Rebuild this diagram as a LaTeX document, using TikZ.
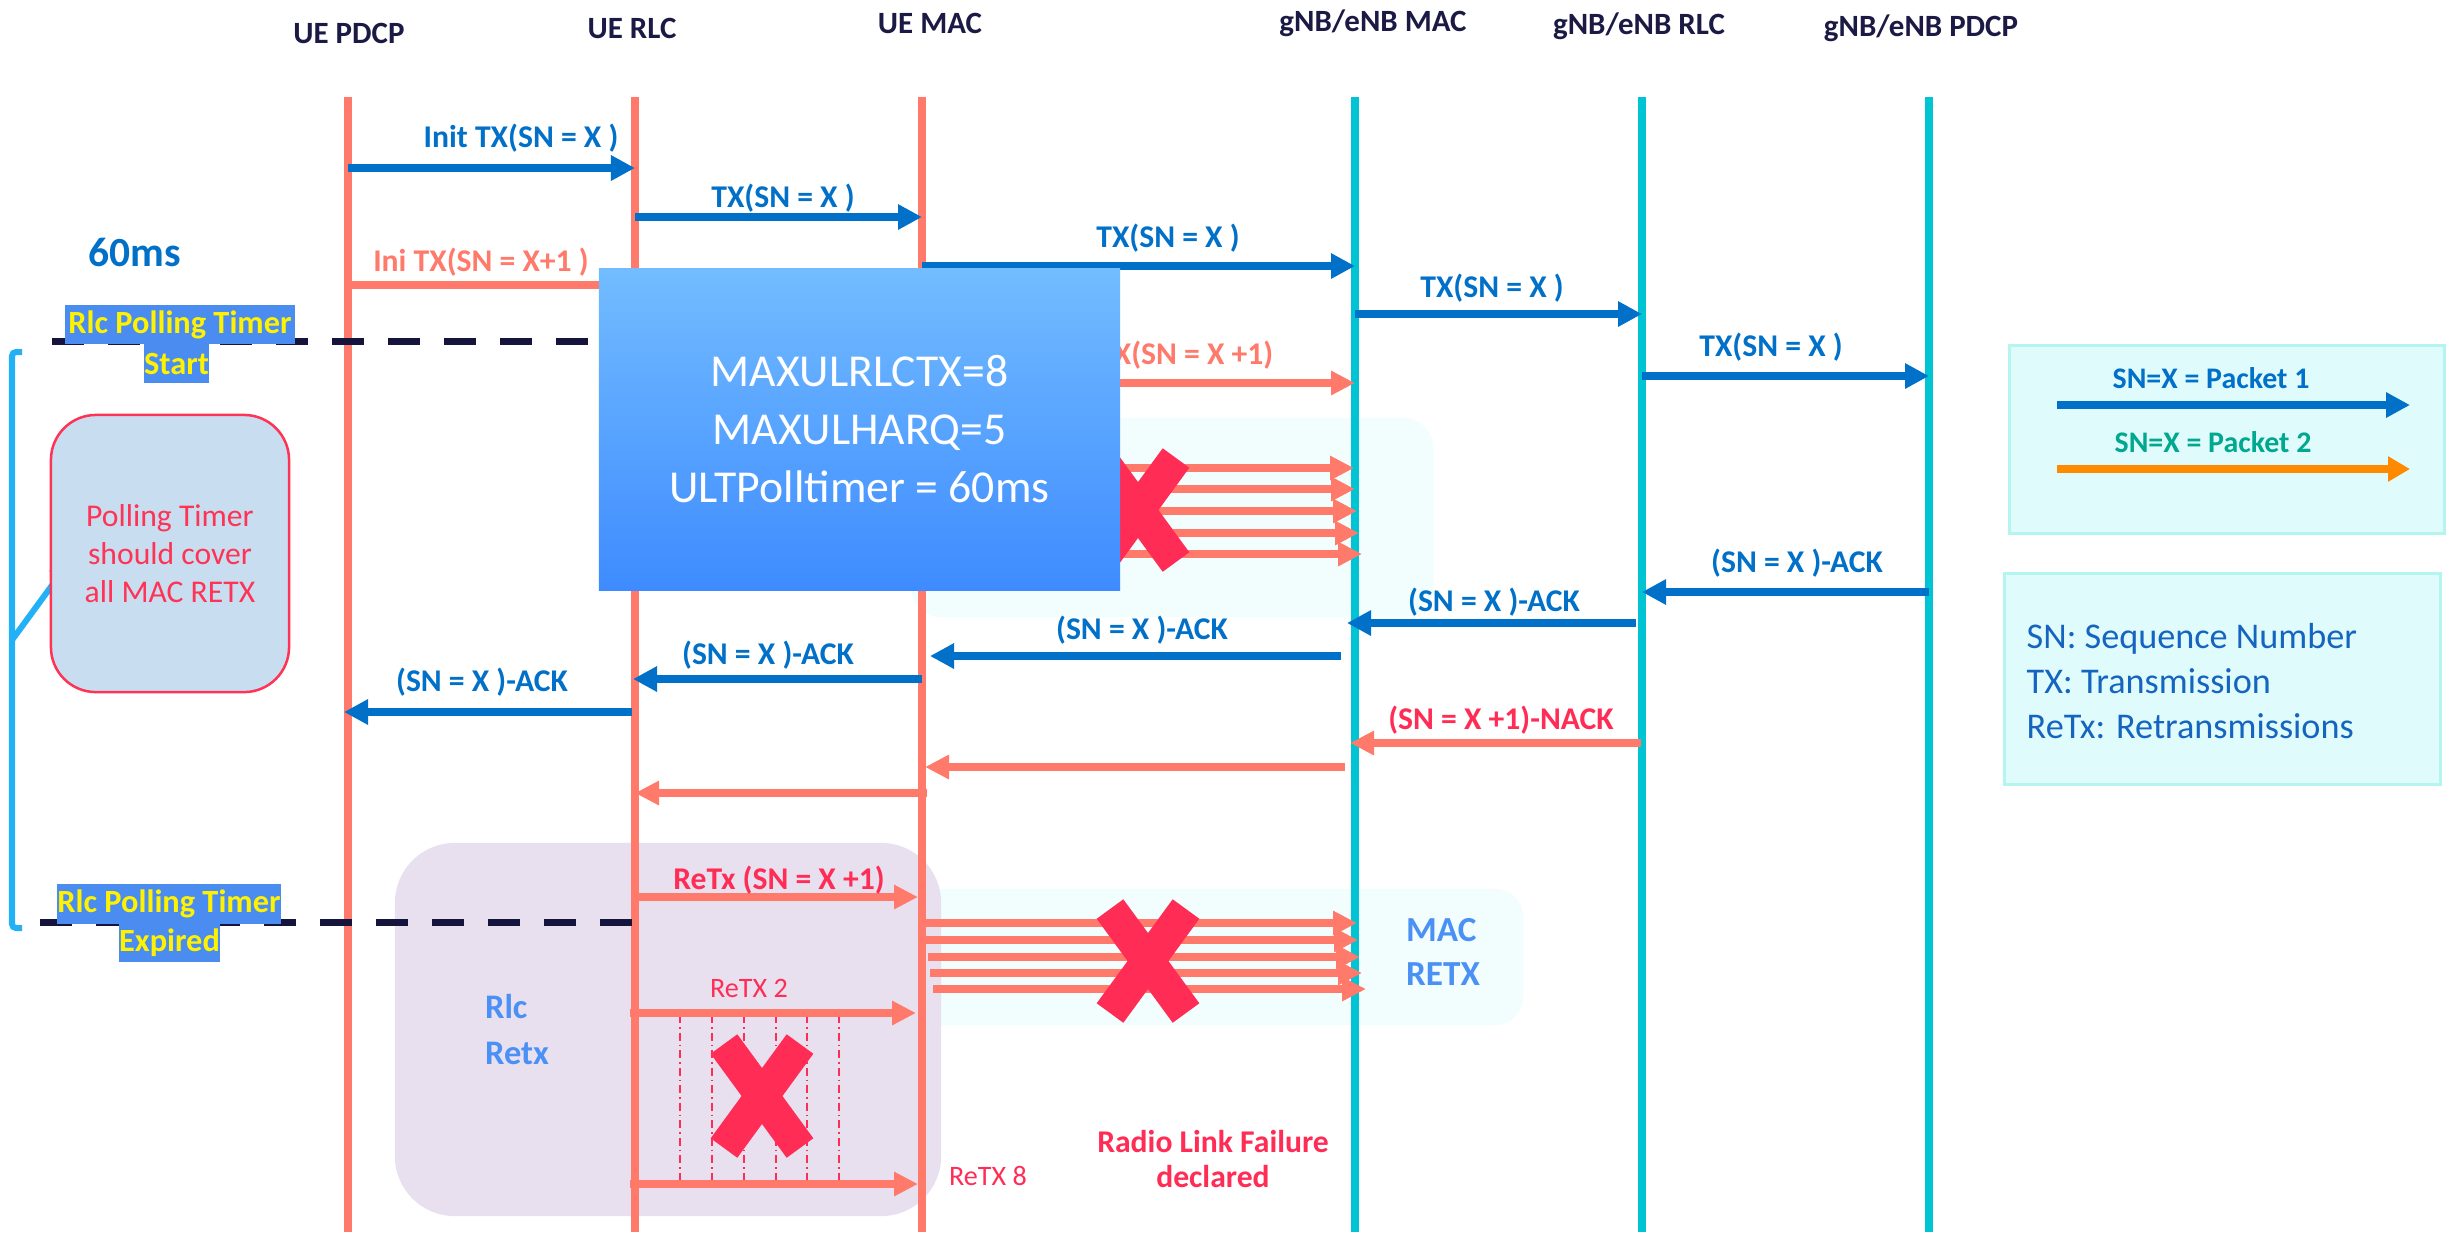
\documentclass[tikz,border=0pt]{standalone}
\usepackage{fontspec}
\setmainfont{Carlito}
\usetikzlibrary{arrows.meta}
\definecolor{arrblue}{HTML}{0070C8}
\definecolor{salmon}{HTML}{FF7A6A}
\definecolor{xred}{HTML}{FF2D55}
\definecolor{lifecyan}{HTML}{00C4D4}
\definecolor{navy}{HTML}{1B1A45}
\definecolor{hlblue}{HTML}{4A8CF0}
\definecolor{txtblue}{HTML}{4A90F5}
\definecolor{lav}{HTML}{E8E0EF}
\definecolor{palecyan}{HTML}{F2FDFD}
\definecolor{legfill}{HTML}{E0FBFB}
\definecolor{legline}{HTML}{B4F6EF}
\definecolor{legtext}{HTML}{1565C0}
\definecolor{teal}{HTML}{00A88F}
\definecolor{legorange}{HTML}{FF8A00}
\definecolor{pollfill}{HTML}{C8DEF0}
\definecolor{pollred}{HTML}{FF3355}
\definecolor{brk}{HTML}{22B0F6}
\definecolor{cfgtop}{HTML}{72BCFF}
\definecolor{cfgbot}{HTML}{3E8BFF}
\definecolor{dashnavy}{HTML}{14143C}
\newcommand{\msgarrow}[5]{%
  \coordinate (#1s) at (#3,#5);
  \coordinate (#1e) at (#4,#5);
  \draw[#2] (#1s) -- (#1e);}
\newcommand{\bigx}[3]{%
  \coordinate (#1) at (#2,#3);
  \draw[xred, line width=0.33cm] ([shift={(-38,-52)}]#1) -- ([shift={(38,52)}]#1);
  \draw[xred, line width=0.33cm] ([shift={(38,-52)}]#1) -- ([shift={(-38,52)}]#1);}
\begin{document}
\begin{tikzpicture}[x=0.01cm,y=-0.01cm,
  barrow/.style={draw=arrblue, line width=0.077cm, -{Triangle[length=0.24cm,width=0.24cm]}},
  sarrow/.style={draw=salmon, line width=0.075cm, -{Triangle[length=0.24cm,width=0.23cm]}},
  oarrow/.style={draw=legorange, line width=0.077cm, -{Triangle[length=0.22cm,width=0.24cm]}},
  lifeue/.style={draw=salmon, line width=0.075cm},
  lifegnb/.style={draw=lifecyan, line width=0.075cm},
  hdr/.style={font=\fontsize{8.8}{10}\selectfont\bfseries, text=navy, inner sep=0},
  lbl/.style={font=\fontsize{9}{10}\selectfont\bfseries, inner sep=0},
  hl/.style={fill=hlblue, text=yellow, font=\fontsize{9.2}{10}\selectfont\bfseries, inner sep=0},
  timerdash/.style={draw=dashnavy, line width=0.07cm, dash pattern=on 0.32cm off 0.24cm},
  thindash/.style={draw=xred, line width=0.012cm, dash pattern=on 0.08cm off 0.04cm on 0.015cm off 0.04cm}]
\useasboundingbox (0,0) rectangle (2446,1232);
\fill[white] (0,0) rectangle (2446,1232);

% background regions
\node[fill=palecyan, rounded corners=0.3cm, minimum width=5.22cm, minimum height=1.99cm, inner sep=0] (macup) at (1172,517.5) {};
\node[fill=palecyan, rounded corners=0.28cm, minimum width=6.23cm, minimum height=1.36cm, inner sep=0] (maclow) at (1211.5,957) {};
\node[fill=lav, rounded corners=0.6cm, minimum width=5.46cm, minimum height=3.73cm, inner sep=0] (rlcbox) at (668,1029.5) {};
\node[draw=legline, fill=legfill, line width=0.03cm, minimum width=4.34cm, minimum height=1.87cm, inner sep=0] (leg1) at (2227,439.5) {};
\node[draw=legline, fill=legfill, line width=0.03cm, minimum width=4.35cm, minimum height=2.10cm, inner sep=0] (leg2) at (2222.5,679) {};

% headers
\node[hdr] (hpu) at (349,33) {UE PDCP};
\node[hdr] (hru) at (632,28) {UE RLC};
\node[hdr] (hmu) at (930,23) {UE MAC};
\node[hdr] (hmg) at (1373,23) {gNB/eNB MAC};
\node[hdr] (hrg) at (1639,26) {gNB/eNB RLC};
\node[hdr] (hpg) at (1921,28) {gNB/eNB PDCP};

% lifelines
\foreach \n/\x/\s in {pu/348/lifeue, ru/635/lifeue, mu/922/lifeue, mg/1355/lifegnb, rg/1642/lifegnb, pg/1929/lifegnb}{
  \coordinate (\n-top) at (\x,97);
  \coordinate (\n-bot) at (\x,1232);
  \draw[\s] (\n-top) -- (\n-bot);
}

% timer dashed lines
\coordinate (tsA) at (52,341);
\coordinate (tsB) at (600,341);
\draw[timerdash] (tsA) -- (tsB);
\coordinate (teA) at (40,922);
\coordinate (teB) at (635,922);
\draw[timerdash] (teA) -- (teB);

% bracket and arrow
\coordinate (br1) at (22,352);
\coordinate (br2) at (12,352);
\coordinate (br3) at (12,928);
\coordinate (br4) at (22,928);
\draw[brk, line width=0.06cm, rounded corners=0.04cm] (br1) -- (br2) -- (br3) -- (br4);
\coordinate (ba1) at (12,640);
\coordinate (ba2) at (72,558);
\draw[brk, line width=0.06cm, -{Triangle[length=0.24cm,width=0.2cm]}] (ba1) -- (ba2);

% polling note
\node[draw=pollred, fill=pollfill, line width=0.025cm, rounded corners=0.45cm, minimum width=2.38cm, minimum height=2.77cm, inner sep=0, text=pollred, align=center, font=\fontsize{9}{10.7}\selectfont] (poll) at (170,553.5) {Polling Timer\\should cover\\all MAC RETX};

\node[font=\fontsize{11.8}{13}\selectfont\bfseries, text=arrblue, inner sep=0] (t60) at (135,252) {60ms};

% Rlc retx helper dashes
\foreach \i/\x in {1/680,2/712,3/744,4/776,5/807,6/839}{
  \coordinate (vd\i a) at (\x,1015);
  \coordinate (vd\i b) at (\x,1187);
  \draw[thindash] (vd\i a) -- (vd\i b);
}

% messages
\msgarrow{m1}{barrow}{348}{635}{168}
\msgarrow{m2}{barrow}{635}{922}{217}
\msgarrow{m3}{sarrow}{348}{635}{285}
\msgarrow{m4}{barrow}{922}{1355}{266}
\msgarrow{m5}{barrow}{1355}{1642}{314}
\msgarrow{m6}{barrow}{1642}{1929}{376}
\msgarrow{m7}{sarrow}{922}{1355}{383}
\msgarrow{u1}{sarrow}{922}{1354}{468}
\msgarrow{u2}{sarrow}{922}{1355}{489}
\msgarrow{u3}{sarrow}{922}{1357}{511}
\msgarrow{u4}{sarrow}{922}{1359}{533}
\msgarrow{u5}{sarrow}{922}{1362}{554}
\msgarrow{a1}{barrow}{1929}{1642}{592}
\msgarrow{a2}{barrow}{1636}{1347}{623}
\msgarrow{a3}{barrow}{1341}{930}{656}
\msgarrow{a4}{barrow}{922}{633}{679}
\msgarrow{a5}{barrow}{632}{344}{712}
\msgarrow{n1}{sarrow}{1641}{1350}{743}
\msgarrow{n2}{sarrow}{1345}{925}{767}
\msgarrow{n3}{sarrow}{927}{635}{793}
\msgarrow{r1}{sarrow}{635}{918}{897}
\msgarrow{l1}{sarrow}{925}{1357}{923}
\msgarrow{l2}{sarrow}{925}{1358}{940}
\msgarrow{l3}{sarrow}{928}{1360}{957}
\msgarrow{l4}{sarrow}{930}{1362}{973}
\msgarrow{l5}{sarrow}{933}{1366}{989}
\msgarrow{r2}{sarrow}{630}{916}{1013}
\msgarrow{r8}{sarrow}{630}{918}{1184}

% labels
\node[lbl, text=arrblue] (lm1) at (521,138) {Init TX(SN = X )};
\node[lbl, text=arrblue] (lm2) at (783,198) {TX(SN = X )};
\node[lbl, text=salmon] (lm3) at (481,262) {Ini TX(SN = X+1 )};
\node[lbl, text=arrblue] (lm4) at (1168,238) {TX(SN = X )};
\node[lbl, text=arrblue] (lm5) at (1492,288) {TX(SN = X )};
\node[lbl, text=arrblue] (lm6) at (1771,347) {TX(SN = X )};
\node[lbl, text=salmon, anchor=east] (lm7) at (1274,355) {TX(SN = X +1)};
\node[lbl, text=arrblue] (la1) at (1797,563) {(SN = X )-ACK};
\node[lbl, text=arrblue] (la2) at (1494,602) {(SN = X )-ACK};
\node[lbl, text=arrblue] (la3) at (1142,630) {(SN = X )-ACK};
\node[lbl, text=arrblue] (la4) at (768,655) {(SN = X )-ACK};
\node[lbl, text=arrblue] (la5) at (482,682) {(SN = X )-ACK};
\node[lbl, text=xred] (ln1) at (1501,720) {(SN = X +1)-NACK};
\node[lbl, text=xred] (lr1) at (779,880) {ReTx (SN = X +1)};
\node[font=\fontsize{8}{9}\selectfont, text=xred, inner sep=0] (lr2) at (749,988) {ReTX 2};
\node[font=\fontsize{8}{9}\selectfont, text=xred, inner sep=0] (lr8) at (988,1176) {ReTX 8};
\node[lbl, text=xred, align=center, font=\fontsize{9}{10.2}\selectfont\bfseries] (rlf) at (1213,1159) {Radio Link Failure\\declared};
\node[text=txtblue, align=left, inner sep=0, font=\fontsize{9.8}{12.8}\selectfont\bfseries] (rlcretx) at (517,1029.5) {Rlc\\Retx};
\node[text=txtblue, align=left, inner sep=0, font=\fontsize{10}{12.4}\selectfont\bfseries] (macretx) at (1443,952) {MAC\\RETX};

% legends
\node[lbl, text=arrblue, font=\fontsize{8.5}{10}\selectfont\bfseries] (lg1) at (2211,378) {SN=X = Packet 1};
\node[lbl, text=teal, font=\fontsize{8.5}{10}\selectfont\bfseries] (lg2) at (2213,442) {SN=X = Packet 2};
\msgarrow{g1}{barrow}{2057}{2410}{405}
\msgarrow{g2}{oarrow}{2057}{2410}{469}
\node[anchor=west, align=left, text=legtext, inner sep=0, font=\fontsize{10.3}{12.7}\selectfont] (lgdef) at (2026,681) {SN: Sequence Number\\TX: Transmission\\ReTx: Retransmissions};

% crosses and config box
\bigx{xup}{1138}{510}
\node[top color=cfgtop, bottom color=cfgbot, minimum width=5.21cm, minimum height=3.21cm, inner sep=0, text=white, align=center, font=\fontsize{13}{16.5}\selectfont] (cfg) at (859.5,429.5) {MAXULRLCTX=8\\MAXULHARQ=5\\ULTPolltimer = 60ms};
\bigx{xlow}{1148}{961}
\bigx{xrlc}{762}{1096}

% timer labels
\node[hl, minimum width=2.30cm, minimum height=0.39cm] (ps1) at (180,324.5) {Rlc Polling Timer};
\node[hl, minimum width=0.65cm, minimum height=0.39cm] (ps2) at (176.5,363.5) {Start};
\node[hl, minimum width=2.20cm, minimum height=0.40cm] (pe1) at (169,904) {Rlc Polling Timer};
\node[hl, minimum width=1.01cm, minimum height=0.38cm] (pe2) at (169.5,943) {Expired};
\end{tikzpicture}
\end{document}
